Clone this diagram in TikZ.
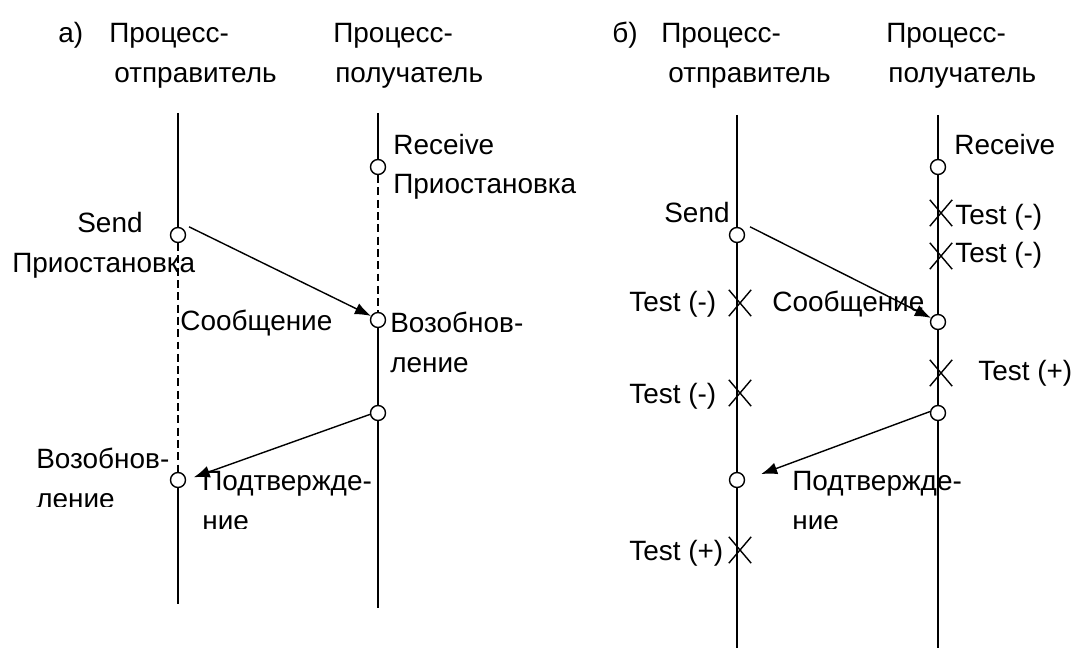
\documentclass[tikz,border=0pt]{standalone}
\usepackage{fontspec}
\setmainfont{Liberation Sans}
\usetikzlibrary{positioning, arrows.meta, shapes.misc}

\begin{document}
\begin{tikzpicture}[
    x=0.02cm, y=-0.02cm,
    lbl/.style={anchor=base west, align=left, inner sep=0pt,
                font=\fontsize{15.9}{22.7}\selectfont},
    event/.style={draw, circle, fill=white, line width=0.8pt,
                  inner sep=0pt, minimum size=0.3cm},
    probe/.style={draw, cross out, line width=0.8pt, inner sep=0pt,
                  minimum width=0.42cm, minimum height=0.5cm},
    life/.style={line width=0.9pt},
    wait/.style={line width=0.9pt, dash pattern=on 4.5pt off 2.5pt},
    msg/.style={-{Latex[length=0.32cm, width=0.24cm]}, line width=0.8pt},
]
\useasboundingbox (0,0) rectangle (1074,648);

% --- a) headers ---
\node[lbl] (capA) at (58,43) {а)};
\node[lbl] (sndA1) at (109,43) {Процесс-};
\node[lbl] (sndA2) at (114,83) {отправитель};
\node[lbl] (rcvA1) at (333,43) {Процесс-};
\node[lbl] (rcvA2) at (335,83) {получатель};

% --- a) lifelines and events ---
\coordinate (topA1) at (178,113);
\coordinate (botA1) at (178,604);
\coordinate (topA2) at (378,113);
\coordinate (botA2) at (378,608);
\node[event] (sendA) at (178,235) {};
\node[event] (wokeA) at (178,480) {};
\node[event] (recvA) at (378,167) {};
\node[event] (resumeA) at (378,320) {};
\node[event] (ackA) at (378,413) {};

\draw[life] (topA1) -- (sendA.north) (wokeA.south) -- (botA1);
\draw[wait] (sendA.south) -- (wokeA.north);
\draw[life] (topA2) -- (recvA.north) (resumeA.south) -- (ackA.north)
    (ackA.south) -- (botA2);
\draw[wait] (recvA.south) -- (resumeA.north);

% --- a) labels (base = last line) ---
\node[lbl] (recvAl) at (393,194) {Receive\\Приостановка};
\node[lbl] (sendAl) at (77,233) {Send};
\node[lbl] (pauseAl) at (12,273) {Приостановка};
\node[lbl] (msgAl) at (180,330) {Сообщение};
\node[lbl] (resumeAl) at (390,372) {Возобнов-\\ление};
\begin{scope}
    \clip (0,0) rectangle (540,506);
    \node[lbl] (wokeAl) at (36,508) {Возобнов-\\ление};
\end{scope}
\begin{scope}
    \clip (0,0) rectangle (540,528);
    \node[lbl] (ackAl) at (202,530) {Подтвержде-\\ние};
\end{scope}

% --- a) messages ---
\draw[msg] ([xshift=0.22cm]sendA.north) -- (resumeA.150);
\draw[msg, shorten >=0.16cm] (ackA.190) -- (wokeA.east);

% --- b) headers ---
\node[lbl] (capB) at (612,43) {б)};
\node[lbl] (sndB1) at (661,43) {Процесс-};
\node[lbl] (sndB2) at (668,83) {отправитель};
\node[lbl] (rcvB1) at (886,43) {Процесс-};
\node[lbl] (rcvB2) at (888,83) {получатель};

% --- b) lifelines and events ---
\coordinate (topB1) at (737,115);
\coordinate (botB1) at (737,648);
\coordinate (topB2) at (938,115);
\coordinate (botB2) at (938,648);
\node[event] (sendB) at (737,235) {};
\node[event] (wokeB) at (737,480) {};
\node[event] (recvB) at (938,167) {};
\node[event] (resumeB) at (938,322) {};
\node[event] (ackB) at (938,413) {};

\draw[life] (topB1) -- (sendB.north) (sendB.south) -- (wokeB.north)
    (wokeB.south) -- (botB1);
\draw[life] (topB2) -- (recvB.north) (recvB.south) -- (resumeB.north)
    (resumeB.south) -- (ackB.north) (ackB.south) -- (botB2);

% --- b) tests ---
\node[probe] (t1B) at (941,213) {};
\node[probe] (t2B) at (941,256) {};
\node[probe] (t3B) at (740,303) {};
\node[probe] (t5B) at (941,373) {};
\node[probe] (t4B) at (740,393) {};
\node[probe] (t6B) at (740,550) {};

% --- b) labels ---
\node[lbl] (recvBl) at (954,155) {Receive};
\node[lbl] (sendBl) at (664,223) {Send};
\node[lbl] (t1Bl) at (955,225) {Test (-)};
\node[lbl] (t2Bl) at (955,263) {Test (-)};
\node[lbl] (t3Bl) at (629,312) {Test (-)};
\node[lbl] (msgBl) at (772,312) {Сообщение};
\node[lbl] (t5Bl) at (978,380) {Test (+)};
\node[lbl] (t4Bl) at (629,403) {Test (-)};
\begin{scope}
    \clip (540,0) rectangle (1074,528);
    \node[lbl] (ackBl) at (792,530) {Подтвержде-\\ние};
\end{scope}
\node[lbl] (t6Bl) at (629,560) {Test (+)};

% --- b) messages ---
\draw[msg] ([xshift=0.26cm]sendB.north) -- (resumeB.150);
\draw[msg, shorten >=0.34cm] (ackB.170) -- (wokeB.east);
\end{tikzpicture}
\end{document}
